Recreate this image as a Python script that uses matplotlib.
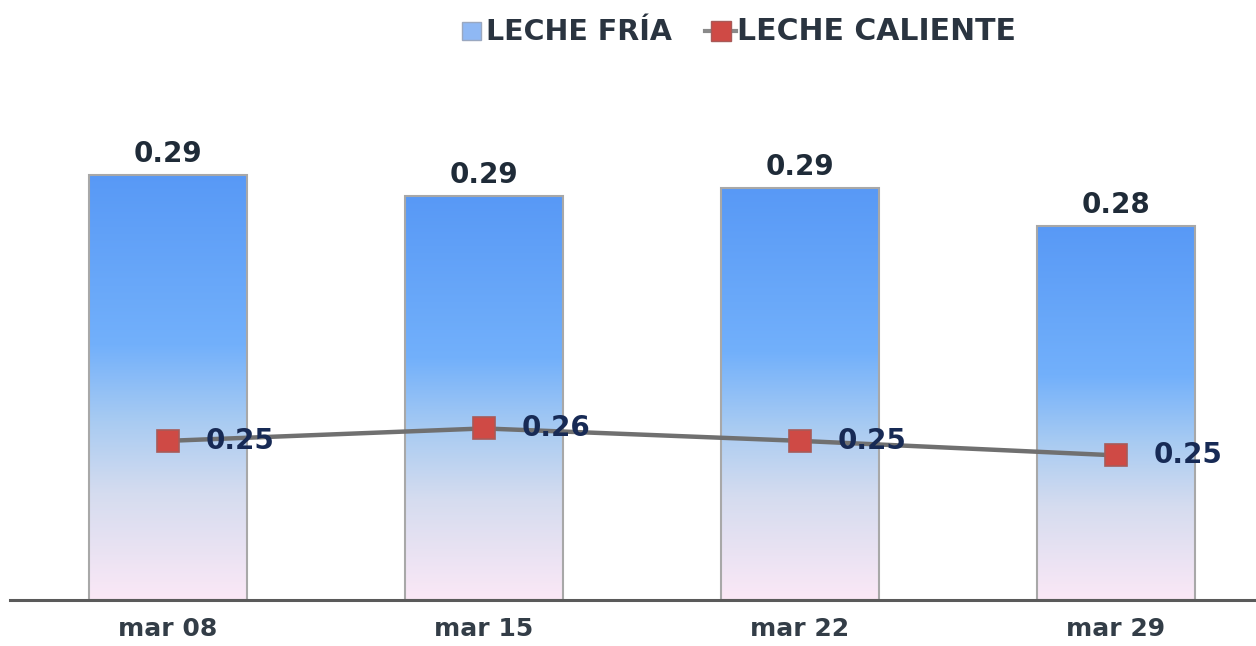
import matplotlib
matplotlib.use("Agg")
import matplotlib.pyplot as plt
import numpy as np
from matplotlib.colors import LinearSegmentedColormap
from matplotlib.patches import Rectangle
from matplotlib.lines import Line2D

categories = ["mar 08", "mar 15", "mar 22", "mar 29"]
leche_fria = [0.293, 0.288, 0.290, 0.281]
leche_caliente = [0.253, 0.256, 0.253, 0.2495]
series_names = ["LECHE FRÍA", "LECHE CALIENTE"]

W, H = 1256, 646
fig = plt.figure(figsize=(W / 100, H / 100), dpi=100)
ax = fig.add_axes([10 / W, 46 / H, (W - 10) / W, 540 / H])
ax2 = ax.twinx()

x = np.arange(len(categories))
bw = 0.5
ax.set_xlim(-0.5, 3.443)
ax.set_ylim(0.193, 0.320)
ax2.set_ylim(0.2146, 0.3449)

cmap = LinearSegmentedColormap.from_list(
    "g", [(0.0, "#fbe8f6"), (0.25, "#d5dcef"), (0.42, "#a8cbf2"),
          (0.6, "#72b0fb"), (1.0, "#5899f6")])
grad = np.linspace(0, 1, 256).reshape(-1, 1)
ymin = ax.get_ylim()[0]
for xi, v in zip(x, leche_fria):
    im = ax.imshow(grad, cmap=cmap, origin="lower", aspect="auto",
                   extent=[xi - bw / 2, xi + bw / 2, ymin, v], zorder=2)
    r = Rectangle((xi - bw / 2, ymin), bw, v - ymin, facecolor="none",
                  edgecolor="#a8a8a8", linewidth=1.5, zorder=3)
    ax.add_patch(r)
    im.set_clip_path(r)
    ax.annotate(f"{v:.2f}", (xi, v), xytext=(0, 5), textcoords="offset points",
                ha="center", va="bottom", fontsize=20, fontweight="bold",
                color="#1f2b38", zorder=5)
ax.set_xlim(-0.5, 3.443)
ax.set_ylim(0.193, 0.320)

ax2.plot(x, leche_caliente, color="#707070", linewidth=3.2, marker="s",
         markersize=16, markerfacecolor="#cf4a45", markeredgecolor="#a85a58",
         markeredgewidth=1.2, zorder=4)
for xi, v in zip(x, leche_caliente):
    ax2.annotate(f"{v:.2f}", (xi, v), xytext=(27, 0), textcoords="offset points",
                 ha="left", va="center", fontsize=20, fontweight="bold",
                 color="#172a55", zorder=6)

for a in (ax, ax2):
    for s in ("top", "right", "left", "bottom"):
        a.spines[s].set_visible(False)
    a.set_yticks([])
ax2.set_zorder(ax.get_zorder() + 1)
ax2.patch.set_visible(False)
ax.axhline(ymin, color="#5a5a5a", linewidth=2.2, zorder=6, clip_on=False)
ax.set_xticks(x)
ax.set_xticklabels(categories, fontsize=18, fontweight="bold", color="#333d47")
ax.tick_params(axis="x", length=0, pad=12)
ax.set_yticks([])

# legend
fig.patches.append(Rectangle((462 / W, 1 - 40 / H), 19 / W, 18 / H,
                             transform=fig.transFigure, facecolor="#8fb8f4",
                             edgecolor="#9aa8c0", linewidth=1))
fig.text(486 / W, 1 - 40 / H, series_names[0], fontsize=20.5, fontweight="bold",
         color="#2a3440", va="baseline", ha="left")
fig.lines.append(Line2D([705 / W, 736 / W], [1 - 31 / H, 1 - 31 / H],
                        transform=fig.transFigure, color="#8a8a8a", linewidth=3))
fig.lines.append(Line2D([721 / W], [1 - 31 / H], transform=fig.transFigure,
                        linestyle="none", marker="s", markersize=15,
                        markerfacecolor="#cf4a45", markeredgecolor="#a85a58"))
fig.text(737 / W, 1 - 40 / H, series_names[1], fontsize=21.5, fontweight="bold",
         color="#2a3440", va="baseline", ha="left")

fig.savefig("out.png", dpi=100, facecolor="white")
